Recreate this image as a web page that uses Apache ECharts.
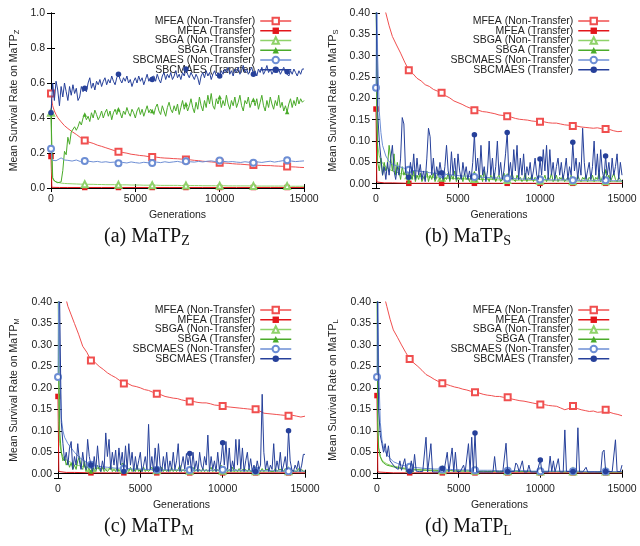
<!DOCTYPE html>
<html>
<head>
<meta charset="utf-8">
<script src="https://cdn.jsdelivr.net/npm/echarts@6/dist/echarts.min.js"></script>
<style>
  html, body { margin: 0; padding: 0; background: #fff; }
  #chart { width: 640px; height: 546px; }
</style>
</head>
<body>
<div id="chart"></div>
<script>
// ---- generation grids (x values) ----
const GEN_FINE = [];
for (let g = 0; g <= 15000; g += 100) GEN_FINE.push(g);
const GEN_COARSE = [0, 50, 100, 200, 300, 400, 600, 800];
for (let g = 1000; g <= 15000; g += 250) GEN_COARSE.push(g);
const GEN_SPARSE = [0, 50, 100, 500, 1000, 2000, 3000, 4000, 5000, 6000, 7000, 8000,
  9000, 10000, 11000, 12000, 13000, 14000, 15000];

const SERIES_NAMES = ['MFEA (Non-Transfer)', 'MFEA (Transfer)', 'SBGA (Non-Transfer)',
  'SBGA (Transfer)', 'SBCMAES (Non-Transfer)', 'SBCMAES (Transfer)'];

const X_TICKS = [0, 5000, 10000, 15000];

// ---- MaTP_Z ----
const Z_MFEA_NT = [0.540,0.500,0.470,0.440,0.420,0.402,0.378,0.356,
  0.340,0.322,0.306,0.288, 0.272,0.262,0.255,0.245, 0.238,0.230,0.222,0.214, 0.207,0.203,0.199,0.193,
  0.190,0.186,0.184,0.180, 0.177,0.176,0.173,0.171, 0.170,0.168,0.167,0.165, 0.163,0.161,0.158,0.156,
  0.153,0.151,0.149,0.147, 0.144,0.143,0.141,0.139, 0.137,0.136,0.134,0.132, 0.131,0.130,0.129,0.128,
  0.128,0.126,0.125,0.124, 0.123,0.121,0.120,0.118, 0.117];
const Z_MFEA_T = [0.180,0.004,0.003,0.003,0.003,0.003,0.003,0.003,0.003,0.003,0.003,0.003,0.003,
  0.003,0.003,0.003,0.003,0.003,0.003];
const Z_SBGA_NT = [0.43,0.10,0.05,0.04,0.035,0.032,0.028,0.026,
  0.025,0.024,0.023,0.022, 0.022,0.021,0.021,0.020, 0.020,0.019,0.019,0.019, 0.018,0.018,0.018,0.017,
  0.017,0.017,0.016,0.016, 0.016,0.016,0.015,0.015, 0.015,0.015,0.015,0.014, 0.014,0.014,0.014,0.014,
  0.013,0.013,0.013,0.013, 0.013,0.013,0.012,0.012, 0.012,0.012,0.012,0.012, 0.012,0.011,0.011,0.011,
  0.011,0.011,0.011,0.011, 0.011,0.010,0.010,0.010, 0.010];
const Z_SBGA_T = [
  0.43,0.06,0.04,0.035,0.03,0.028,0.035,0.10,0.21,0.19,
  0.29,0.25,0.32,0.31,0.35,0.33,0.35,0.38,0.36,0.40,
  0.42,0.39,0.41,0.38,0.43,0.40,0.445,0.42,0.39,0.41,
  0.44,0.40,0.43,0.45,0.41,0.44,0.39,0.43,0.45,0.42,
  0.45,0.43,0.40,0.44,0.42,0.46,0.43,0.41,0.45,0.43,
  0.40,0.44,0.46,0.42,0.45,0.41,0.44,0.47,0.43,0.45,
  0.44,0.42,0.46,0.48,0.44,0.42,0.47,0.44,0.41,0.46,
  0.49,0.45,0.43,0.47,0.44,0.48,0.42,0.46,0.50,0.45,
  0.48,0.44,0.47,0.51,0.46,0.43,0.49,0.45,0.52,0.47,
  0.44,0.50,0.46,0.53,0.48,0.54,0.47,0.45,0.51,0.48,
  0.52,0.46,0.50,0.47,0.53,0.48,0.45,0.50,0.47,0.52,
  0.46,0.49,0.53,0.47,0.44,0.50,0.48,0.52,0.46,0.49,
  0.505,0.47,0.51,0.45,0.49,0.53,0.47,0.44,0.50,0.46,
  0.52,0.48,0.45,0.50,0.47,0.53,0.46,0.49,0.44,0.47,
  0.435,0.48,0.51,0.46,0.50,0.47,0.52,0.48,0.51,0.49,
  0.50];
const Z_SBCMAES_NT = [0.225,0.170,0.158,0.162,0.156,0.165,0.172,0.160,
  0.158,0.154,0.160,0.151, 0.155,0.153,0.149,0.152, 0.147,0.150,0.146,0.148, 0.141,0.146,0.143,0.149,
  0.145,0.142,0.147,0.144, 0.143,0.148,0.145,0.150, 0.146,0.149,0.152,0.147, 0.153,0.150,0.148,0.152,
  0.149,0.153,0.155,0.151, 0.157,0.152,0.149,0.151, 0.148,0.146,0.150,0.147, 0.145,0.149,0.146,0.150,
  0.153,0.148,0.152,0.156, 0.159,0.154,0.151,0.153, 0.155];
const Z_SBCMAES_T = [
  0.43,0.60,0.50,0.61,0.56,0.47,0.58,0.52,0.60,0.55,
  0.50,0.58,0.53,0.59,0.54,0.57,0.50,0.52,0.58,0.55,
  0.57,0.55,0.60,0.63,0.57,0.60,0.56,0.61,0.59,0.62,
  0.58,0.61,0.63,0.59,0.62,0.60,0.64,0.61,0.59,0.63,
  0.65,0.62,0.60,0.63,0.61,0.64,0.60,0.62,0.58,0.61,
  0.63,0.60,0.64,0.61,0.63,0.59,0.62,0.65,0.61,0.63,
  0.62,0.64,0.61,0.65,0.62,0.60,0.64,0.66,0.62,0.65,
  0.63,0.66,0.62,0.64,0.67,0.63,0.65,0.62,0.66,0.64,
  0.68,0.65,0.63,0.66,0.64,0.62,0.65,0.63,0.59,0.64,
  0.66,0.63,0.67,0.64,0.66,0.62,0.65,0.67,0.64,0.66,
  0.64,0.67,0.65,0.68,0.66,0.69,0.65,0.67,0.64,0.68,
  0.66,0.69,0.65,0.67,0.70,0.66,0.68,0.65,0.67,0.69,
  0.65,0.67,0.64,0.68,0.66,0.69,0.65,0.67,0.70,0.66,
  0.68,0.65,0.67,0.69,0.66,0.68,0.65,0.67,0.69,0.66,
  0.665,0.64,0.67,0.65,0.68,0.66,0.64,0.67,0.65,0.68,
  0.68];

// ---- MaTP_S ----
const S_MFEA_NT = [0.60,0.55,0.52,0.48,0.45,0.43,0.40,0.37,
  0.345,0.325,0.306,0.285, 0.266,0.258,0.247,0.241, 0.232,0.228,0.221,0.217, 0.213,0.206,0.201,0.194,
  0.190,0.186,0.181,0.177, 0.172,0.172,0.169,0.168, 0.166,0.164,0.161,0.160, 0.158,0.156,0.153,0.151,
  0.150,0.149,0.147,0.146, 0.145,0.145,0.143,0.142, 0.142,0.140,0.138,0.137, 0.135,0.135,0.133,0.132,
  0.131,0.130,0.131,0.129, 0.128,0.127,0.124,0.122, 0.123];
const S_MFEA_T = [0.175,0.004,0.003,0.002,0.002,0.001,0.001,0.001,0.001,0.001,0.001,0.001,0.001,
  0.001,0.001,0.001,0.001,0.001,0.001];
const S_SBGA_NT = [0.50,0.15,0.09,0.065,0.055,0.048,0.040,0.034,
  0.030,0.027,0.024,0.022, 0.020,0.019,0.018,0.017, 0.016,0.016,0.015,0.014, 0.014,0.013,0.013,0.012,
  0.012,0.012,0.011,0.011, 0.011,0.010,0.010,0.010, 0.010,0.009,0.009,0.009, 0.009,0.009,0.008,0.008,
  0.008,0.008,0.008,0.008, 0.007,0.007,0.007,0.007, 0.007,0.007,0.007,0.006, 0.006,0.006,0.006,0.006,
  0.006,0.006,0.006,0.006, 0.006,0.005,0.005,0.005, 0.005];
const S_SBGA_T = [
  0.50,0.05,0.03,0.06,0.02,0.05,0.03,0.04,0.09,0.06,
  0.03,0.07,0.02,0.05,0.03,0.01,0.04,0.02,0.03,0.01,
  0.005,0.02,0.01,0.03,0.005,0.02,0.01,0.025,0.005,0.015,
  0.01,0.03,0.005,0.02,0.01,0.025,0.005,0.015,0.03,0.01,
  0.02,0.005,0.015,0.01,0.025,0.005,0.02,0.01,0.03,0.005,
  0.015,0.01,0.02,0.005,0.025,0.01,0.015,0.005,0.02,0.01,
  0.025,0.005,0.015,0.01,0.02,0.005,0.03,0.01,0.015,0.005,
  0.02,0.01,0.025,0.005,0.015,0.02,0.005,0.01,0.025,0.01,
  0.02,0.005,0.015,0.025,0.01,0.005,0.02,0.01,0.015,0.005,
  0.01,0.025,0.005,0.015,0.01,0.02,0.005,0.015,0.01,0.02,
  0.015,0.005,0.01,0.02,0.005,0.015,0.01,0.025,0.005,0.01,
  0.02,0.005,0.015,0.01,0.02,0.005,0.01,0.015,0.005,0.02,
  0.01,0.015,0.005,0.02,0.01,0.005,0.015,0.01,0.02,0.005,
  0.015,0.01,0.02,0.005,0.015,0.01,0.025,0.005,0.015,0.02,
  0.03,0.01,0.02,0.005,0.015,0.025,0.01,0.005,0.015,0.01,
  0.005];
const S_SBCMAES_NT = [0.225,0.45,0.30,0.17,0.12,0.09,0.065,0.052,
  0.046,0.042,0.039,0.036, 0.033,0.031,0.030,0.029, 0.028,0.026,0.025,0.024, 0.022,0.022,0.021,0.020,
  0.019,0.018,0.018,0.017, 0.016,0.016,0.015,0.015, 0.014,0.014,0.013,0.013, 0.012,0.012,0.012,0.011,
  0.011,0.011,0.010,0.010, 0.010,0.010,0.009,0.009, 0.009,0.009,0.009,0.009, 0.008,0.008,0.008,0.008,
  0.008,0.008,0.008,0.008, 0.008,0.007,0.007,0.007, 0.007];
const S_SBCMAES_T = [
  0.45,0.17,0.10,0.06,0.02,0.04,0.01,0.05,0.02,0.06,
  0.09,0.03,0.01,0.04,0.02,0.06,0.155,0.14,0.03,0.01,
  0.015,0.05,0.02,0.07,0.01,0.06,0.02,0.045,0.01,0.03,
  0.005,0.06,0.13,0.11,0.02,0.06,0.01,0.04,0.02,0.05,
  0.025,0.01,0.04,0.09,0.03,0.01,0.075,0.02,0.06,0.01,
  0.07,0.03,0.01,0.05,0.02,0.04,0.01,0.03,0.01,0.05,
  0.115,0.03,0.06,0.01,0.09,0.02,0.04,0.005,0.03,0.10,
  0.02,0.06,0.01,0.04,0.10,0.02,0.05,0.01,0.03,0.07,
  0.12,0.02,0.05,0.01,0.08,0.03,0.09,0.01,0.06,0.02,
  0.07,0.01,0.04,0.02,0.05,0.01,0.03,0.06,0.02,0.01,
  0.058,0.02,0.08,0.03,0.09,0.01,0.08,0.02,0.05,0.01,
  0.04,0.06,0.02,0.05,0.01,0.03,0.06,0.01,0.04,0.02,
  0.097,0.03,0.06,0.01,0.05,0.02,0.13,0.05,0.01,0.03,
  0.05,0.01,0.04,0.10,0.02,0.07,0.01,0.08,0.03,0.01,
  0.065,0.02,0.05,0.01,0.06,0.02,0.04,0.07,0.01,0.05,
  0.02];

// ---- MaTP_M ----
const M_MFEA_NT = [0.60,0.55,0.51,0.47,0.44,0.42,0.39,0.37,
  0.350,0.325,0.297,0.283, 0.264,0.259,0.250,0.243, 0.235,0.229,0.224,0.217, 0.210,0.210,0.205,0.203,
  0.200,0.196,0.194,0.190, 0.186,0.184,0.180,0.178, 0.176,0.175,0.172,0.170, 0.168,0.168,0.166,0.165,
  0.165,0.163,0.160,0.159, 0.158,0.156,0.155,0.154, 0.153,0.152,0.151,0.150, 0.150,0.146,0.141,0.140,
  0.139,0.138,0.137,0.136, 0.135,0.136,0.134,0.132, 0.134];
const M_MFEA_T = [0.180,0.005,0.004,0.003,0.003,0.002,0.002,0.002,0.002,0.002,0.002,0.002,0.002,
  0.002,0.002,0.002,0.002,0.002,0.002];
const M_SBGA_NT = [0.50,0.12,0.07,0.05,0.04,0.035,0.03,0.026,
  0.022,0.019,0.017,0.015, 0.013,0.013,0.012,0.012, 0.011,0.011,0.011,0.010, 0.010,0.010,0.010,0.009,
  0.009,0.009,0.009,0.009, 0.008,0.008,0.008,0.008, 0.008,0.008,0.008,0.007, 0.007,0.007,0.007,0.007,
  0.007,0.007,0.007,0.007, 0.007,0.006,0.006,0.006, 0.006,0.006,0.006,0.006, 0.006,0.006,0.006,0.006,
  0.006,0.006,0.006,0.006, 0.006,0.006,0.006,0.006, 0.006];
const M_SBGA_T = [
  0.50,0.10,0.05,0.03,0.04,0.02,0.03,0.015,0.025,0.01,
  0.02,0.01,0.03,0.04,0.015,0.01,0.03,0.005,0.02,0.01,
  0.005,0.015,0.01,0.005,0.02,0.01,0.005,0.015,0.005,0.01,
  0.005,0.01,0.02,0.005,0.01,0.005,0.015,0.005,0.01,0.025,
  0.02,0.005,0.01,0.005,0.015,0.005,0.01,0.005,0.02,0.005,
  0.01,0.005,0.015,0.005,0.01,0.005,0.005,0.015,0.005,0.01,
  0.005,0.01,0.005,0.015,0.005,0.01,0.005,0.01,0.005,0.015,
  0.005,0.01,0.005,0.01,0.02,0.005,0.01,0.005,0.01,0.005,
  0.01,0.005,0.015,0.005,0.01,0.005,0.01,0.005,0.012,0.005,
  0.01,0.005,0.01,0.015,0.005,0.01,0.005,0.01,0.005,0.02,
  0.01,0.005,0.012,0.005,0.01,0.005,0.015,0.005,0.01,0.005,
  0.012,0.005,0.01,0.006,0.01,0.005,0.012,0.005,0.008,0.005,
  0.01,0.006,0.01,0.005,0.012,0.005,0.01,0.006,0.01,0.005,
  0.008,0.005,0.012,0.005,0.01,0.006,0.01,0.005,0.012,0.005,
  0.01,0.005,0.008,0.006,0.01,0.005,0.012,0.005,0.01,0.005,
  0.005];
const M_SBCMAES_NT = [0.225,0.45,0.25,0.13,0.10,0.085,0.07,0.06,
  0.050,0.040,0.032,0.026, 0.021,0.019,0.017,0.016, 0.015,0.014,0.013,0.013, 0.012,0.012,0.011,0.011,
  0.011,0.010,0.010,0.010, 0.009,0.009,0.009,0.009, 0.009,0.009,0.008,0.008, 0.0085,0.008,0.008,0.008,
  0.008,0.008,0.008,0.008, 0.009,0.008,0.008,0.008, 0.008,0.007,0.007,0.007, 0.007,0.007,0.007,0.007,
  0.007,0.007,0.006,0.006, 0.006,0.006,0.006,0.006, 0.006];
const M_SBCMAES_T = [
  0.50,0.40,0.12,0.07,0.03,0.05,0.02,0.06,0.075,0.01,
  0.04,0.02,0.07,0.03,0.01,0.05,0.02,0.01,0.08,0.04,
  0.02,0.005,0.04,0.01,0.065,0.02,0.005,0.03,0.01,0.095,
  0.04,0.08,0.01,0.05,0.02,0.055,0.005,0.06,0.02,0.05,
  0.005,0.065,0.01,0.07,0.02,0.05,0.005,0.04,0.01,0.03,
  0.05,0.005,0.02,0.04,0.01,0.115,0.01,0.04,0.005,0.06,
  0.01,0.07,0.02,0.005,0.04,0.01,0.05,0.005,0.03,0.01,
  0.05,0.01,0.03,0.07,0.005,0.02,0.04,0.01,0.047,0.02,
  0.047,0.005,0.05,0.01,0.03,0.005,0.05,0.02,0.01,0.04,
  0.02,0.09,0.005,0.04,0.01,0.03,0.005,0.05,0.01,0.03,
  0.072,0.02,0.075,0.01,0.06,0.005,0.03,0.01,0.08,0.02,
  0.08,0.01,0.06,0.005,0.03,0.05,0.01,0.035,0.005,0.02,
  0.005,0.03,0.01,0.02,0.185,0.05,0.01,0.03,0.005,0.02,
  0.01,0.07,0.005,0.03,0.01,0.05,0.005,0.02,0.04,0.01,
  0.10,0.03,0.01,0.005,0.02,0.01,0.03,0.005,0.02,0.045,
  0.045];

// ---- MaTP_L ----
const L_MFEA_NT = [0.60,0.55,0.51,0.47,0.44,0.42,0.39,0.36,
  0.335,0.318,0.300,0.283, 0.267,0.258,0.250,0.241, 0.231,0.226,0.220,0.215, 0.211,0.208,0.205,0.202,
  0.200,0.197,0.195,0.192, 0.190,0.188,0.185,0.183, 0.182,0.180,0.180,0.178, 0.178,0.174,0.172,0.170,
  0.169,0.167,0.165,0.163, 0.161,0.161,0.159,0.158, 0.157,0.153,0.149,0.152, 0.158,0.152,0.149,0.147,
  0.145,0.146,0.143,0.144, 0.149,0.143,0.140,0.138, 0.135];
const L_MFEA_T = [0.182,0.004,0.003,0.003,0.002,0.002,0.002,0.002,0.002,0.002,0.002,0.002,0.002,
  0.002,0.002,0.002,0.002,0.002,0.002];
const L_SBGA_NT = [0.50,0.10,0.06,0.04,0.033,0.028,0.023,0.020,
  0.018,0.016,0.014,0.013, 0.012,0.011,0.010,0.010, 0.009,0.009,0.009,0.008, 0.008,0.008,0.008,0.007,
  0.007,0.007,0.007,0.007, 0.007,0.006,0.006,0.006, 0.006,0.006,0.006,0.006, 0.006,0.006,0.006,0.006,
  0.006,0.006,0.005,0.005, 0.005,0.005,0.005,0.005, 0.005,0.005,0.005,0.005, 0.005,0.005,0.005,0.005,
  0.005,0.005,0.005,0.005, 0.005,0.005,0.005,0.005, 0.005];
const L_SBGA_T = [0.50,0.12,0.06,0.04,0.03,0.025,0.020,0.018,
  0.016,0.014,0.012,0.011, 0.010,0.009,0.009,0.008, 0.008,0.007,0.007,0.007, 0.007,0.006,0.007,0.006,
  0.006,0.006,0.006,0.006, 0.006,0.005,0.006,0.005, 0.005,0.006,0.005,0.005, 0.005,0.005,0.006,0.005,
  0.005,0.005,0.005,0.005, 0.005,0.005,0.005,0.005, 0.005,0.005,0.004,0.005, 0.005,0.004,0.005,0.004,
  0.004,0.005,0.004,0.004, 0.004,0.004,0.004,0.004, 0.004];
const L_SBCMAES_NT = [0.225,0.45,0.25,0.12,0.08,0.06,0.045,0.036,
  0.028,0.024,0.020,0.018, 0.016,0.015,0.014,0.013, 0.012,0.012,0.011,0.011, 0.010,0.010,0.010,0.009,
  0.009,0.009,0.009,0.008, 0.008,0.008,0.008,0.008, 0.008,0.007,0.007,0.007, 0.007,0.007,0.007,0.007,
  0.007,0.007,0.006,0.006, 0.006,0.006,0.006,0.006, 0.006,0.006,0.006,0.006, 0.006,0.006,0.006,0.005,
  0.005,0.005,0.005,0.005, 0.005,0.005,0.005,0.005, 0.005];
const L_SBCMAES_T = [
  0.50,0.15,0.09,0.07,0.05,0.07,0.04,0.065,0.03,0.025,
  0.02,0.015,0.012,0.01,0.03,0.008,0.006,0.035,0.005,0.01,
  0.005,0.03,0.004,0.045,0.006,0.004,0.005,0.004,0.005,0.004,
  0.085,0.004,0.005,0.07,0.004,0.005,0.004,0.005,0.004,0.012,
  0.012,0.005,0.004,0.05,0.004,0.005,0.06,0.004,0.05,0.005,
  0.004,0.005,0.004,0.02,0.004,0.005,0.07,0.004,0.085,0.005,
  0.095,0.004,0.005,0.004,0.005,0.004,0.005,0.004,0.005,0.004,
  0.005,0.004,0.04,0.004,0.005,0.004,0.005,0.004,0.005,0.071,
  0.005,0.004,0.005,0.004,0.005,0.025,0.02,0.004,0.005,0.03,
  0.004,0.005,0.004,0.02,0.004,0.005,0.004,0.005,0.004,0.005,
  0.032,0.004,0.005,0.004,0.005,0.004,0.041,0.005,0.03,0.004,
  0.005,0.035,0.004,0.005,0.004,0.102,0.005,0.004,0.005,0.004,
  0.005,0.004,0.005,0.107,0.004,0.005,0.004,0.005,0.015,0.004,
  0.005,0.004,0.005,0.004,0.005,0.004,0.005,0.004,0.05,0.055,
  0.005,0.004,0.005,0.004,0.005,0.004,0.079,0.005,0.004,0.005,
  0.02];

// ---- panel definitions: data per panel ----
const PANELS = [
  { caption: '(a) MaTP', sub: 'Z', yMin: 0, yMax: 1, yStep: 0.2, digits: 1,
    series: [[GEN_COARSE, Z_MFEA_NT], [GEN_SPARSE, Z_MFEA_T], [GEN_COARSE, Z_SBGA_NT],
             [GEN_FINE, Z_SBGA_T], [GEN_COARSE, Z_SBCMAES_NT], [GEN_FINE, Z_SBCMAES_T]] },
  { caption: '(b) MaTP', sub: 'S', yMin: -0.01, yMax: 0.4, yStep: 0.05, digits: 2,
    series: [[GEN_COARSE, S_MFEA_NT], [GEN_SPARSE, S_MFEA_T], [GEN_COARSE, S_SBGA_NT],
             [GEN_FINE, S_SBGA_T], [GEN_COARSE, S_SBCMAES_NT], [GEN_FINE, S_SBCMAES_T]] },
  { caption: '(c) MaTP', sub: 'M', yMin: -0.01, yMax: 0.4, yStep: 0.05, digits: 2,
    series: [[GEN_COARSE, M_MFEA_NT], [GEN_SPARSE, M_MFEA_T], [GEN_COARSE, M_SBGA_NT],
             [GEN_FINE, M_SBGA_T], [GEN_COARSE, M_SBCMAES_NT], [GEN_FINE, M_SBCMAES_T]] },
  { caption: '(d) MaTP', sub: 'L', yMin: -0.01, yMax: 0.4, yStep: 0.05, digits: 2,
    series: [[GEN_COARSE, L_MFEA_NT], [GEN_SPARSE, L_MFEA_T], [GEN_COARSE, L_SBGA_NT],
             [GEN_COARSE, L_SBGA_T], [GEN_COARSE, L_SBCMAES_NT], [GEN_FINE, L_SBCMAES_T]] }
];

// ---- layout and styling ----
const LAYOUT = [
  { grid: { left: 51, top: 13, width: 253, height: 175 }, nameGap: 30, legend: { right: 348, top: 15.5 }, cap: [104, 237] },
  { grid: { left: 376, top: 13, width: 246, height: 175 }, nameGap: 36, legend: { right: 30, top: 15.5 }, cap: [425, 237] },
  { grid: { left: 58, top: 302, width: 247, height: 176 }, nameGap: 37, legend: { right: 348, top: 304.5 }, cap: [104, 527] },
  { grid: { left: 377, top: 302, width: 245, height: 176 }, nameGap: 37, legend: { right: 30, top: 304.5 }, cap: [425, 527] }
];
const STYLES = [
  { color: '#f04f4f', symbol: 'emptyRect', size: 6 },
  { color: '#e3161b', symbol: 'rect', size: 5.5 },
  { color: '#8fd26a', symbol: 'emptyTriangle', size: 6 },
  { color: '#4aab2a', symbol: 'triangle', size: 4.5 },
  { color: '#6d8ed4', symbol: 'emptyCircle', size: 6 },
  { color: '#26409a', symbol: 'circle', size: 5.5 }
];
const SANS = 'Liberation Sans, Arial, sans-serif';
const SERIF = 'Liberation Serif, Times New Roman, serif';
const TEXT = '#222';

const grids = [], xAxes = [], yAxes = [], series = [], legends = [], graphics = [];

PANELS.forEach((p, pi) => {
  const L = LAYOUT[pi];
  grids.push(Object.assign({ containLabel: false }, L.grid));

  const frame = { show: true, lineStyle: { color: '#000', width: 1 } };
  const ticks = { show: true, inside: true, length: 4, lineStyle: { color: '#000', width: 1 } };

  // bottom + top x axes
  xAxes.push({
    gridIndex: pi, type: 'value', min: X_TICKS[0], max: X_TICKS[X_TICKS.length - 1],
    interval: X_TICKS[1] - X_TICKS[0], position: 'bottom',
    axisLine: frame, axisTick: ticks, splitLine: { show: false },
    axisLabel: { fontSize: 10.5, color: TEXT, fontFamily: SANS, margin: 6, formatter: v => String(v) },
    name: 'Generations', nameLocation: 'middle', nameGap: 22,
    nameTextStyle: { fontSize: 10.5, color: TEXT, fontFamily: SANS }
  });
  xAxes.push({
    gridIndex: pi, type: 'value', min: X_TICKS[0], max: X_TICKS[X_TICKS.length - 1],
    interval: X_TICKS[1] - X_TICKS[0], position: 'top',
    axisLine: frame, axisTick: ticks, splitLine: { show: false }, axisLabel: { show: false }
  });

  // left + right y axes
  const steps = Math.round((p.yMax - Math.max(p.yMin, 0)) / p.yStep);
  const yCommon = {
    gridIndex: pi, type: 'value', min: p.yMin, max: p.yMax,
    splitNumber: steps, minInterval: p.yStep, maxInterval: p.yStep,
    axisLine: frame, axisTick: ticks, splitLine: { show: false }
  };
  yAxes.push(Object.assign({}, yCommon, {
    position: 'left',
    axisLabel: {
      fontSize: 10.5, color: TEXT, fontFamily: SANS, margin: 6,
      formatter: v => (v < -1e-9 ? '' : v.toFixed(p.digits))
    },
    name: '{m|Mean Survival Rate on MaTP}{s|' + p.sub + '}',
    nameLocation: 'middle', nameGap: L.nameGap,
    nameTextStyle: {
      rich: {
        m: { fontSize: 10.5, color: TEXT, fontFamily: SANS, lineHeight: 13 },
        s: { fontSize: 7.5, color: TEXT, fontFamily: SANS, lineHeight: 8, verticalAlign: 'bottom' }
      }
    }
  }));
  yAxes.push(Object.assign({}, yCommon, { position: 'right', axisLabel: { show: false } }));

  p.series.forEach(([gens, vals], si) => {
    const st = STYLES[si];
    series.push({
      type: 'line', name: SERIES_NAMES[si],
      xAxisIndex: pi * 2, yAxisIndex: pi * 2,
      data: gens.map((g, i) => [g, vals[i]]),
      symbol: st.symbol,
      symbolSize: v => (v[0] % 2000 === 0 ? st.size : 0),
      showAllSymbol: true, clip: true, animation: false,
      lineStyle: { color: st.color, width: 1 },
      itemStyle: { color: st.color, borderWidth: 1 },
      emphasis: { disabled: true }, z: 2 + si
    });
  });

  legends.push({
    orient: 'vertical', align: 'right', right: L.legend.right, top: L.legend.top,
    itemWidth: 31, itemHeight: 8, itemGap: -1.25, padding: 0, selectedMode: false,
    itemStyle: { borderWidth: 1 },
    lineStyle: { width: 1.5 },
    textStyle: { fontSize: 10.5, color: TEXT, fontFamily: SANS, lineHeight: 9.75 },
    data: SERIES_NAMES
  });

  graphics.push({
    type: 'text', x: L.cap[0], y: L.cap[1],
    style: {
      text: '{m|' + p.caption + '}{s|' + p.sub + '}',
      verticalAlign: 'middle', align: 'left',
      rich: {
        m: { fontSize: 20, fontFamily: SERIF, fill: '#111', lineHeight: 22 },
        s: { fontSize: 14, fontFamily: SERIF, fill: '#111', lineHeight: 14, verticalAlign: 'bottom' }
      }
    }
  });
});

const chart = echarts.init(document.getElementById('chart'), null, { renderer: 'canvas' });
chart.setOption({
  backgroundColor: '#fff',
  animation: false,
  grid: grids, xAxis: xAxes, yAxis: yAxes, series: series,
  legend: legends, graphic: graphics
});
</script>
</body>
</html>
